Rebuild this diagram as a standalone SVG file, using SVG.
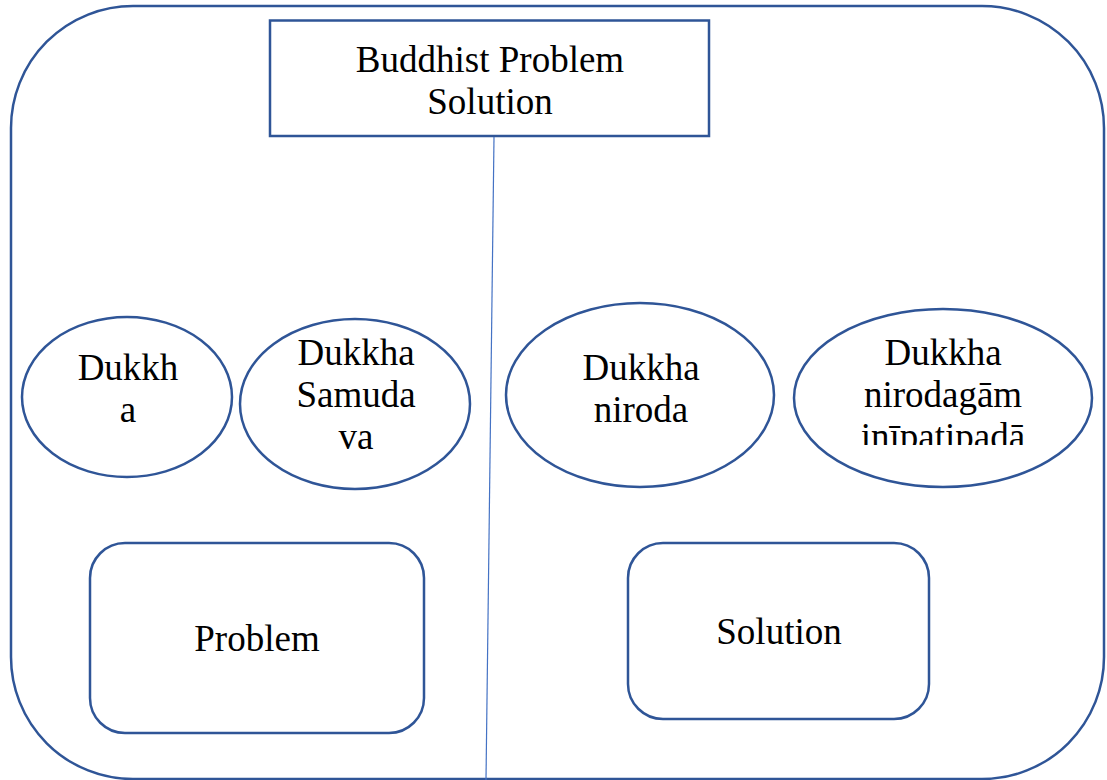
<svg xmlns="http://www.w3.org/2000/svg" width="1107" height="780" viewBox="0 0 1107 780">
<defs>
<style>
.s{fill:#fff;stroke:#2F5597;stroke-width:2.5}
.t{font-family:"Liberation Serif","Times New Roman",serif;font-size:37px;fill:#000;text-anchor:middle}
.c{stroke:#4472C4;stroke-width:1.2;fill:none}
</style>
<clipPath id="clip4"><rect x="794" y="310" width="298" height="135"/></clipPath>
</defs>
<rect width="1107" height="780" fill="#fff"/>
<g id="frame"><rect class="s" x="11" y="6" width="1093" height="773" rx="122" ry="122"/></g>
<g id="title">
<rect class="s" x="270" y="20.5" width="439" height="115.5"/>
<text class="t" x="490" y="72">Buddhist Problem</text>
<text class="t" x="490" y="114">Solution</text>
</g>
<g id="connectors"><line class="c" x1="494" y1="137" x2="486" y2="780"/></g>
<g id="dukkha">
<ellipse class="s" cx="127" cy="397" rx="105" ry="80"/>
<text class="t" x="128" y="380">Dukkh</text>
<text class="t" x="128" y="422">a</text>
</g>
<g id="samudava">
<ellipse class="s" cx="355" cy="404" rx="115" ry="85"/>
<text class="t" x="356" y="365">Dukkha</text>
<text class="t" x="356" y="407">Samuda</text>
<text class="t" x="356" y="449">va</text>
</g>
<g id="niroda">
<ellipse class="s" cx="640" cy="395" rx="134" ry="92"/>
<text class="t" x="641" y="380">Dukkha</text>
<text class="t" x="641" y="422">niroda</text>
</g>
<g id="nirodagamini">
<ellipse class="s" cx="943" cy="398" rx="149" ry="89"/>
<g clip-path="url(#clip4)">
<text class="t" x="943" y="365">Dukkha</text>
<text class="t" x="943" y="407">nirodagām</text>
<text class="t" x="943" y="449">inīpatipadā</text>
</g>
</g>
<g id="problem">
<rect class="s" x="90" y="543" width="334" height="190" rx="35" ry="35"/>
<text class="t" x="257" y="651">Problem</text>
</g>
<g id="solution">
<rect class="s" x="628" y="543" width="301" height="176" rx="35" ry="35"/>
<text class="t" x="779" y="644">Solution</text>
</g>
</svg>
